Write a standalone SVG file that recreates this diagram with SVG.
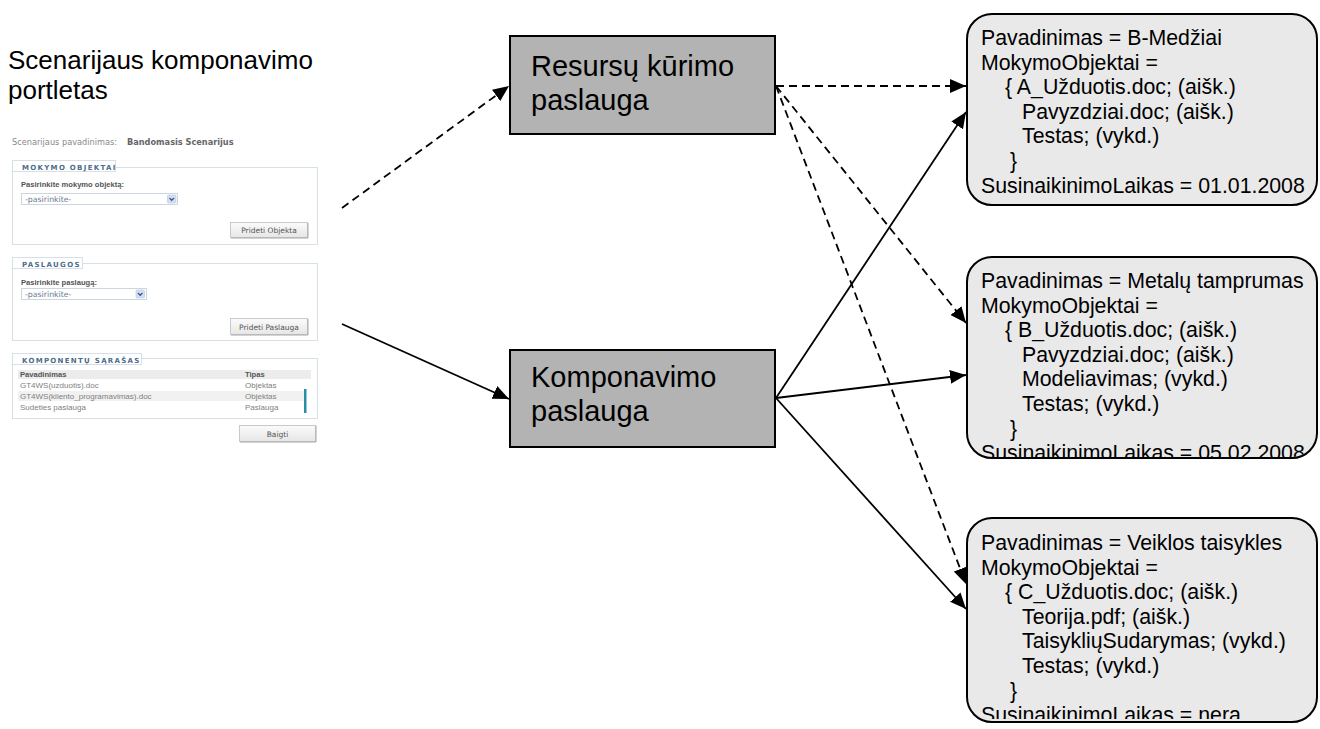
<svg xmlns="http://www.w3.org/2000/svg" width="1320" height="729" viewBox="0 0 1320 729">
  <defs>
    <marker id="head" markerUnits="userSpaceOnUse" markerWidth="17" markerHeight="15" refX="16" refY="7" orient="auto">
      <path d="M0,0 L16,7 L0,14 z" fill="#000"/>
    </marker>
    <linearGradient id="btn" x1="0" y1="0" x2="0" y2="1">
      <stop offset="0" stop-color="#fbfbfb"/>
      <stop offset="1" stop-color="#e6e6e6"/>
    </linearGradient>
    <clipPath id="clipA"><rect x="968" y="15" width="348" height="189" rx="24"/></clipPath>
    <clipPath id="clipB"><rect x="968" y="258" width="348" height="199" rx="24"/></clipPath>
    <clipPath id="clipC"><rect x="968" y="519" width="348" height="200" rx="24"/></clipPath>
  </defs>
  <style>
    .title { font-family: "Liberation Sans", Arial, sans-serif; font-size: 26px; fill: #000; }
    .svc rect { fill: #b3b3b3; stroke: #000; stroke-width: 2; }
    .svc text { font-family: "Liberation Sans", Arial, sans-serif; font-size: 29px; fill: #000; }
    .res rect.frame { fill: #e9e9e9; stroke: #000; stroke-width: 2; }
    .res text { font-family: "Liberation Sans", Arial, sans-serif; font-size: 21.3px; fill: #000; }
    .conn line { stroke: #000; stroke-width: 1.8; fill: none; }
    .conn .dash { stroke-dasharray: 8 5; }
    .pl-fs { fill: #fff; stroke: #d7dfe7; stroke-width: 1; }
    .pl-leg { font-family: "DejaVu Sans", Verdana, sans-serif; font-size: 7px; font-weight: bold; fill: #4d6c8c; letter-spacing: 1.3px; }
    .pl-lbl { font-family: "Liberation Sans", Arial, sans-serif; font-size: 7.6px; font-weight: bold; fill: #555; }
    .pl-txt { font-family: "Liberation Sans", Arial, sans-serif; font-size: 8px; fill: #808080; }
    .pl-sel { fill: #fff; stroke: #cdd5de; stroke-width: 1; }
    .pl-opt { font-family: "DejaVu Sans", Verdana, sans-serif; font-size: 7.8px; fill: #6a7a90; }
    .pl-btn { fill: url(#btn); stroke: #c9c9c9; stroke-width: 1; }
    .pl-btxt { font-family: "DejaVu Sans", Verdana, sans-serif; font-size: 7.5px; fill: #555; text-anchor: middle; }
    .pl-ico { fill: #d4e0f0; stroke: #b8c8dc; stroke-width: 0.6; }
    .pl-chev { fill: none; stroke: #2f5a9a; stroke-width: 1.3; }
  </style>

  <rect width="1320" height="729" fill="#fff"/>

  <!-- heading of the left panel -->
  <g id="title">
    <text class="title" x="8" y="69">Scenarijaus komponavimo</text>
    <text class="title" x="8" y="99">portletas</text>
  </g>

  <!-- portlet form -->
  <g id="portlet">
    <text x="12" y="145" font-family="DejaVu Sans, Verdana, sans-serif" font-size="8.2" fill="#888">Scenarijaus pavadinimas:</text>
    <text x="127" y="145" font-family="DejaVu Sans, Verdana, sans-serif" font-size="8.2" font-weight="bold" fill="#666">Bandomasis Scenarijus</text>

    <!-- fieldset: learning objects -->
    <rect class="pl-fs" x="12.5" y="167.5" width="305" height="77"/>
    <rect class="pl-fs" x="12.5" y="160.5" width="103" height="11"/>
    <text class="pl-leg" x="22" y="170">MOKYMO OBJEKTAI</text>
    <text class="pl-lbl" x="21" y="187">Pasirinkite mokymo objektą:</text>
    <rect class="pl-sel" x="21.5" y="193.5" width="156" height="11"/>
    <text class="pl-opt" x="25" y="202">-pasirinkite-</text>
    <rect class="pl-ico" x="167.5" y="195" width="8.5" height="8" rx="1"/>
    <path class="pl-chev" d="M169.5,198 L171.7,200.3 L174,198"/>
    <rect class="pl-btn" x="230.5" y="222.5" width="77" height="15"/>
    <path d="M231,238 H308 V223" fill="none" stroke="#a8a8a8" stroke-width="1"/>
    <text class="pl-btxt" x="269" y="233">Prideti Objekta</text>

    <!-- fieldset: services -->
    <rect class="pl-fs" x="12.5" y="263.5" width="305" height="77"/>
    <rect class="pl-fs" x="12.5" y="257.5" width="70" height="11"/>
    <text class="pl-leg" x="22" y="266.5">PASLAUGOS</text>
    <text class="pl-lbl" x="21" y="285">Pasirinkite paslaugą:</text>
    <rect class="pl-sel" x="21.5" y="288.5" width="125" height="11"/>
    <text class="pl-opt" x="25" y="297">-pasirinkite-</text>
    <rect class="pl-ico" x="136" y="290" width="8.5" height="8" rx="1"/>
    <path class="pl-chev" d="M138,293 L140.2,295.3 L142.5,293"/>
    <rect class="pl-btn" x="230.5" y="318.5" width="77" height="16"/>
    <path d="M231,335 H308 V319" fill="none" stroke="#a8a8a8" stroke-width="1"/>
    <text class="pl-btxt" x="269" y="329.5">Prideti Paslauga</text>

    <!-- fieldset: component list -->
    <rect class="pl-fs" x="12.5" y="358.5" width="305" height="60"/>
    <rect class="pl-fs" x="12.5" y="353.5" width="129" height="11"/>
    <text class="pl-leg" x="22" y="362.5">KOMPONENTŲ SĄRAŠAS</text>
    <rect x="18" y="370" width="293" height="9" fill="#ececec"/>
    <text class="pl-lbl" x="20" y="377">Pavadinimas</text>
    <text class="pl-lbl" x="245" y="377">Tipas</text>
    <rect x="18" y="391" width="286" height="10" fill="#f1f1f1"/>
    <text class="pl-txt" x="20" y="388">GT4WS(uzduotis).doc</text>
    <text class="pl-txt" x="245" y="388">Objektas</text>
    <text class="pl-txt" x="20" y="399">GT4WS(kliento_programavimas).doc</text>
    <text class="pl-txt" x="245" y="399">Objektas</text>
    <text class="pl-txt" x="20" y="410">Sudeties paslauga</text>
    <text class="pl-txt" x="245" y="410">Paslauga</text>
    <rect x="304" y="389" width="2.5" height="24" fill="#2b8ca8"/>
    <rect class="pl-btn" x="239.5" y="425.5" width="76" height="16"/>
    <path d="M240,442 H316 V426" fill="none" stroke="#a8a8a8" stroke-width="1"/>
    <text class="pl-btxt" x="277.5" y="436.5">Baigti</text>
  </g>

  <!-- connectors -->
  <g id="connectors" class="conn">
    <line class="dash" x1="342" y1="208" x2="509" y2="86" marker-end="url(#head)"/>
    <line x1="342" y1="324" x2="509" y2="399" marker-end="url(#head)"/>
    <line class="dash" x1="776" y1="86" x2="966" y2="86" marker-end="url(#head)"/>
    <line class="dash" x1="776" y1="86" x2="966" y2="323" marker-end="url(#head)"/>
    <line class="dash" x1="776" y1="86" x2="966" y2="584" marker-end="url(#head)"/>
    <line x1="776" y1="398" x2="966" y2="112" marker-end="url(#head)"/>
    <line x1="776" y1="398" x2="966" y2="375" marker-end="url(#head)"/>
    <line x1="776" y1="398" x2="966" y2="609" marker-end="url(#head)"/>
  </g>

  <!-- services -->
  <g id="resursu-kurimo" class="svc">
    <rect x="510" y="36" width="265" height="98"/>
    <text x="531" y="76">Resursų kūrimo</text>
    <text x="531" y="110">paslauga</text>
  </g>
  <g id="komponavimo" class="svc">
    <rect x="510" y="350" width="265" height="97"/>
    <text x="531" y="387">Komponavimo</text>
    <text x="531" y="421">paslauga</text>
  </g>

  <!-- scenario resources -->
  <g id="resource-a" class="res">
    <rect class="frame" x="967" y="14" width="350" height="191" rx="25"/>
    <g clip-path="url(#clipA)">
      <text x="981" y="45">Pavadinimas = B-Medžiai</text>
      <text x="981" y="69.6">MokymoObjektai =</text>
      <text x="1005" y="94.2">{ A_Užduotis.doc; (aišk.)</text>
      <text x="1022" y="118.8">Pavyzdziai.doc; (aišk.)</text>
      <text x="1022" y="143.4">Testas; (vykd.)</text>
      <text x="1010" y="168">}</text>
      <text x="981" y="192.6">SusinaikinimoLaikas = 01.01.2008</text>
    </g>
  </g>
  <g id="resource-b" class="res">
    <rect class="frame" x="967" y="257" width="350" height="201" rx="25"/>
    <g clip-path="url(#clipB)">
      <text x="981" y="288">Pavadinimas = Metalų tamprumas</text>
      <text x="981" y="312.6">MokymoObjektai =</text>
      <text x="1005" y="337.2">{ B_Užduotis.doc; (aišk.)</text>
      <text x="1022" y="361.8">Pavyzdziai.doc; (aišk.)</text>
      <text x="1022" y="386.4">Modeliavimas; (vykd.)</text>
      <text x="1022" y="411">Testas; (vykd.)</text>
      <text x="1010" y="435.6">}</text>
      <text x="981" y="460.2">SusinaikinimoLaikas = 05.02.2008</text>
    </g>
  </g>
  <g id="resource-c" class="res">
    <rect class="frame" x="967" y="518" width="350" height="204" rx="25"/>
    <g clip-path="url(#clipC)">
      <text x="981" y="550">Pavadinimas = Veiklos taisykles</text>
      <text x="981" y="574.6">MokymoObjektai =</text>
      <text x="1005" y="599.2">{ C_Užduotis.doc; (aišk.)</text>
      <text x="1022" y="623.8">Teorija.pdf; (aišk.)</text>
      <text x="1022" y="648.4">TaisykliųSudarymas; (vykd.)</text>
      <text x="1022" y="673">Testas; (vykd.)</text>
      <text x="1010" y="697.6">}</text>
      <text x="981" y="722.2">SusinaikinimoLaikas = nera</text>
    </g>
  </g>
</svg>
